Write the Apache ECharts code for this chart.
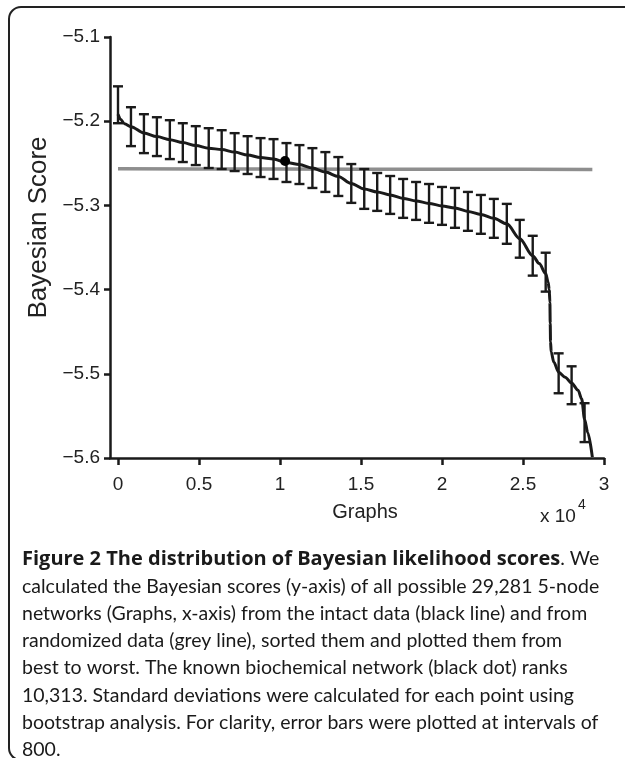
<!DOCTYPE html>
<html><head><meta charset="utf-8">
<script src="https://cdn.jsdelivr.net/npm/echarts@6/dist/echarts.min.js"></script>
<style>html,body{margin:0;padding:0;background:#fff}#c{width:625px;height:758px}</style>
</head><body><div id="c"></div>
<script>
// ---- data ----
const xTickValues = [0, 5000, 10000, 15000, 20000, 25000, 30000];
const yMin = -5.6, yMax = -5.1, yStep = 0.1;

// intact data (black line): rank vs Bayesian score
const intactX = [0, 150, 400, 800, 1600, 2400, 3200, 4000, 4800, 5600, 6400, 7200, 8000, 8800, 9600, 10400, 11200, 12000, 12800, 13600, 14400, 15200, 16000, 16800, 17600, 18400, 19200, 20000, 20800, 21600, 22400, 23200, 24000, 24800, 25600, 26000, 26400, 26550, 26620, 26660, 26680, 26700, 26740, 26900, 27200, 27600, 28000, 28400, 28624, 28800, 29000, 29281];
const intactY = [-5.1917, -5.1976, -5.2030, -5.2065, -5.2140, -5.2183, -5.2219, -5.2254, -5.2290, -5.2320, -5.2337, -5.2367, -5.2402, -5.2432, -5.2450, -5.2491, -5.2515, -5.2556, -5.2604, -5.2657, -5.2740, -5.2805, -5.2840, -5.2876, -5.2917, -5.2947, -5.2976, -5.3006, -5.3030, -5.3071, -5.3107, -5.3154, -5.3219, -5.3396, -5.3598, -5.3690, -5.3810, -5.3910, -5.4000, -5.4150, -5.4400, -5.4620, -5.4740, -5.4860, -5.4982, -5.5040, -5.5110, -5.5195, -5.5300, -5.5540, -5.5700, -5.5990];

// randomized data (grey line)
const randomX = [0, 5000, 10000, 15000, 20000, 25000, 29281];
const randomY = [-5.2566, -5.2568, -5.2569, -5.2570, -5.2571, -5.2572, -5.2573];

// error bars (every 800 ranks)
const errX = [0, 800, 1600, 2400, 3200, 4000, 4800, 5600, 6400, 7200, 8000, 8800, 9600, 10400, 11200, 12000, 12800, 13600, 14400, 15200, 16000, 16800, 17600, 18400, 19200, 20000, 20800, 21600, 22400, 23200, 24000, 24800, 25600, 26400, 27200, 28000, 28800];
const errHigh = [-5.1586, -5.1834, -5.1917, -5.1953, -5.1988, -5.2024, -5.2059, -5.2083, -5.2107, -5.2142, -5.2178, -5.2201, -5.2213, -5.2260, -5.2284, -5.2320, -5.2367, -5.2426, -5.2509, -5.2568, -5.2615, -5.2651, -5.2686, -5.2722, -5.2746, -5.2781, -5.2793, -5.2840, -5.2876, -5.2923, -5.2982, -5.3172, -5.3361, -5.3562, -5.4757, -5.4911, -5.5349];
const errLow = [-5.2024, -5.2296, -5.2379, -5.2414, -5.2450, -5.2485, -5.2521, -5.2556, -5.2568, -5.2592, -5.2627, -5.2663, -5.2686, -5.2722, -5.2746, -5.2793, -5.2840, -5.2888, -5.2970, -5.3041, -5.3065, -5.3101, -5.3148, -5.3172, -5.3207, -5.3231, -5.3266, -5.3302, -5.3337, -5.3385, -5.3456, -5.3621, -5.3834, -5.4024, -5.5231, -5.5361, -5.5811];

// known biochemical network (black dot)
const knownX = [10313];
const knownY = [-5.2473];

const xAxisName = 'Graphs';
const yAxisName = 'Bayesian Score';
const xScaleNote = 'x 10';
const xScaleExp = '4';

const captionBold = 'Figure 2 The distribution of Bayesian likelihood scores';
const captionLines = [
  '. We',
  'calculated the Bayesian scores (y-axis) of all possible 29,281 5-node',
  'networks (Graphs, x-axis) from the intact data (black line) and from',
  'randomized data (grey line), sorted them and plotted them from',
  'best to worst. The known biochemical network (black dot) ranks',
  '10,313. Standard deviations were calculated for each point using',
  'bootstrap analysis. For clarity, error bars were plotted at intervals of',
  '800.'
];

// ---- chart ----
const chart = echarts.init(document.getElementById('c'), null, {renderer: 'canvas'});
const axisFont = 'Liberation Sans, Arial, sans-serif';
const capFont = 'Lato, sans-serif';
const capBoldFont = 'Open Sans, sans-serif';
const ink = '#1a1a1a';

const capTop = 549, capStep = 27.3, capLeft = 22;
const captionGraphics = captionLines.map((t, i) => {
  const txt = i === 0 ? '{b|' + captionBold + '}{n|' + t + '}' : '{n|' + t + '}';
  return {
    type: 'text', left: capLeft, top: capTop + i * capStep,
    style: {
      text: txt,
      rich: {
        b: {fontFamily: capBoldFont, fontSize: 20, fontWeight: 'bold', fill: ink, lineHeight: 24},
        n: {fontFamily: capFont, fontSize: 19.5, fill: ink, lineHeight: 24}
      }
    }
  };
});

const option = {
  animation: false,
  backgroundColor: '#fff',
  grid: {left: 110, right: 21, top: 37, bottom: 300, containLabel: false},
  xAxis: {
    type: 'value', min: -494, max: 30000,
    name: xAxisName, nameLocation: 'middle', nameGap: 44,
    nameTextStyle: {fontFamily: axisFont, fontSize: 20, color: '#222', padding: [0, 0, 0, 16]},
    axisLine: {show: true, onZero: false, lineStyle: {color: ink, width: 2.5}},
    axisTick: {show: true, inside: false, length: 7, customValues: xTickValues, lineStyle: {color: ink, width: 2.5}},
    axisLabel: {customValues: xTickValues, margin: 17, fontFamily: axisFont, fontSize: 19, color: '#222',
      formatter: v => String(v / 10000)},
    splitLine: {show: false}
  },
  yAxis: {
    type: 'value', min: yMin, max: yMax, interval: yStep,
    name: yAxisName, nameLocation: 'middle', nameGap: 55, nameRotate: 90,
    nameTextStyle: {fontFamily: axisFont, fontSize: 26, color: '#222', padding: [0, 0, 0, 40]},
    axisLine: {show: true, onZero: false, lineStyle: {color: ink, width: 2.5}},
    axisTick: {show: true, inside: false, length: 6, lineStyle: {color: ink, width: 2.5}},
    axisLabel: {margin: 10, fontFamily: axisFont, fontSize: 19, color: '#222',
      formatter: v => (v < 0 ? '\u2212' : '') + Math.abs(v).toFixed(1)},
    splitLine: {show: false}
  },
  series: [
    {
      name: 'randomized data', type: 'line',
      data: randomX.map((x, i) => [x, randomY[i]]),
      showSymbol: false, lineStyle: {color: '#8e8e8e', width: 3.5}, z: 1
    },
    {
      name: 'error bars', type: 'custom',
      data: errX.map((x, i) => [x, errLow[i], errHigh[i]]),
      encode: {x: 0, y: [1, 2]},
      renderItem: (params, api) => {
        const x = api.value(0);
        const lo = api.coord([x, api.value(1)]);
        const hi = api.coord([x, api.value(2)]);
        const hw = 5;
        const st = {stroke: ink, lineWidth: 2.4};
        return {type: 'group', children: [
          {type: 'line', shape: {x1: lo[0], y1: lo[1], x2: hi[0], y2: hi[1]}, style: st},
          {type: 'line', shape: {x1: lo[0] - hw, y1: lo[1], x2: lo[0] + hw, y2: lo[1]}, style: st},
          {type: 'line', shape: {x1: hi[0] - hw, y1: hi[1], x2: hi[0] + hw, y2: hi[1]}, style: st}
        ]};
      },
      z: 3
    },
    {
      name: 'intact data', type: 'line',
      data: intactX.map((x, i) => [x, intactY[i]]),
      showSymbol: false, smooth: 0.3, smoothMonotone: 'x',
      lineStyle: {color: ink, width: 3}, z: 4
    },
    {
      name: 'known network', type: 'scatter',
      data: knownX.map((x, i) => [x, knownY[i]]),
      symbol: 'circle', symbolSize: 10, itemStyle: {color: '#000', opacity: 1}, z: 5
    }
  ],
  graphic: [
    {type: 'rect', shape: {x: 9, y: 7, width: 900, height: 753, r: 12},
      style: {fill: 'none', stroke: '#222', lineWidth: 2}, z: -1},
    {type: 'text', left: 540, top: 507, style: {text: xScaleNote, fontFamily: axisFont, fontSize: 19, fill: '#222'}},
    {type: 'text', left: 578, top: 498, style: {text: xScaleExp, fontFamily: axisFont, fontSize: 14, fill: '#222'}}
  ].concat(captionGraphics)
};
chart.setOption(option);
</script>
</body></html>
